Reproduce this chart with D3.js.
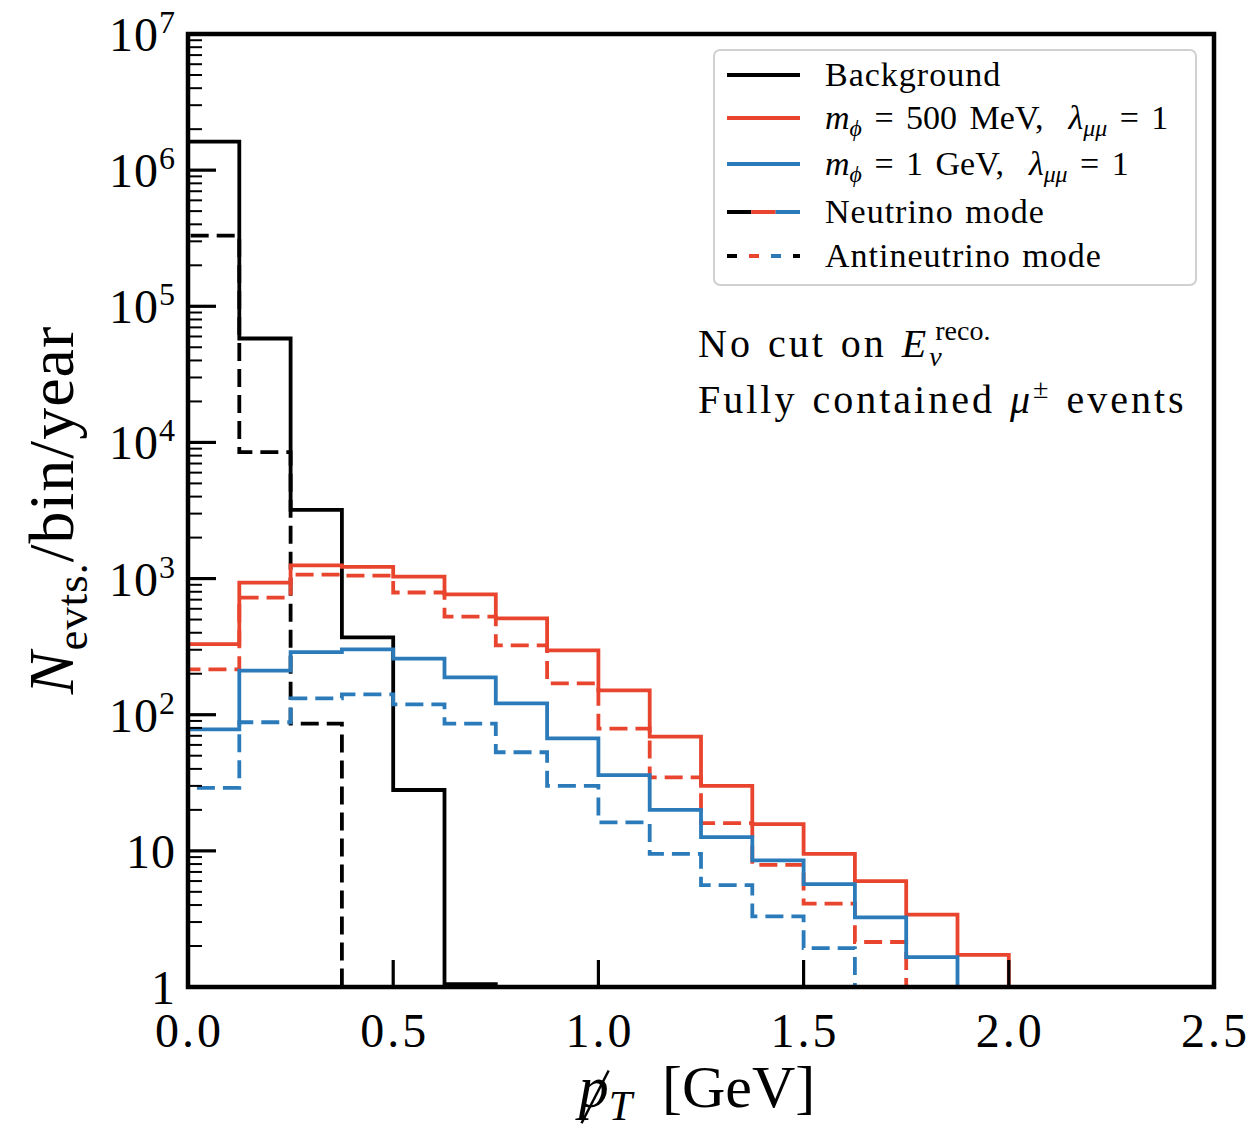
<!DOCTYPE html>
<html>
<head>
<meta charset="utf-8">
<script src="https://cdn.jsdelivr.net/npm/d3@7"></script>
<style>
  body { margin: 0; background: #fff; }
  text { font-family: "Liberation Serif", "DejaVu Serif", serif; fill: #000; }
</style>
</head>
<body>
<div id="chart"></div>
<script>
// bin edges in GeV (bin width 0.125)
const binEdges = [0, 0.125, 0.25, 0.375, 0.5, 0.625, 0.75, 0.875, 1.0,
  1.125, 1.25, 1.375, 1.5, 1.625, 1.75, 1.875, 2.0];

// events per bin per year
const bkgNu = [1.62e6, 5.8e4, 3200, 370, 28, 1.05];
const bkgAntiNu = [3.3e5, 8500, 86];
const red500Nu = [330, 935, 1250, 1220, 1035, 765, 510, 297, 151, 69, 30, 15.7, 9.5, 6.0, 3.4, 1.72];
const red500AntiNu = [215, 725, 1070, 1050, 790, 525, 323, 170, 79, 34.6, 16, 7.9, 4.1, 2.14];
const blue1Nu = [78, 211, 288, 302, 258, 188, 121, 67, 36, 20, 12.6, 8.5, 5.7, 3.25, 1.66];
const blue1AntiNu = [29, 88, 132, 141, 119, 86, 53, 30, 16.2, 9.5, 5.6, 3.3, 1.93];

const xTicks = [0, 0.5, 1.0, 1.5, 2.0, 2.5];
const yExponents = [0, 1, 2, 3, 4, 5, 6, 7];

const red = "#e8442e";
const blue = "#2b7bba";

const width = 1251;
const height = 1133;
const margin = { top: 34, right: 37, bottom: 146, left: 188 };

const xScale = d3.scaleLinear()
  .domain([0, 2.5])
  .range([margin.left, width - margin.right]);

const yScale = d3.scaleLog()
  .domain([1, 1e7])
  .range([height - margin.bottom, margin.top]);

const svg = d3.select("#chart")
  .append("svg")
  .attr("width", width)
  .attr("height", height);

svg.append("clipPath")
  .attr("id", "plot-clip")
  .append("rect")
  .attr("x", margin.left)
  .attr("y", margin.top)
  .attr("width", width - margin.left - margin.right)
  .attr("height", height - margin.top - margin.bottom);

// rich text helper: parts are [string, kind]; kind: "", "i", "sub", "sup", "isub", "isup"
const richText = (sel, parts, size) => {
  let shift = 0;
  parts.forEach(([str, kind]) => {
    const t = sel.append("tspan").text(str);
    if (kind.includes("i")) t.style("font-style", "italic");
    let target = 0;
    if (kind.includes("sub")) target = size * 0.22;
    else if (kind.includes("sup")) target = -size * 0.38;
    if (target !== 0) t.style("font-size", `${size * 0.7}px`);
    if (target !== shift) t.attr("dy", target - shift);
    shift = target;
  });
  return sel;
};

// histogram step path
const stepPath = (values) => {
  const base = yScale.range()[0];
  const pts = [[xScale(0), base]];
  values.forEach((v, i) => {
    const y = v > 0 ? yScale(v) : base;
    pts.push([xScale(binEdges[i]), y]);
    pts.push([xScale(binEdges[i + 1]), y]);
  });
  pts.push([xScale(binEdges[values.length]), base]);
  return d3.line()(pts);
};

const series = [
  { values: bkgNu, color: "#000", dash: null },
  { values: bkgAntiNu, color: "#000", dash: "18,8" },
  { values: red500Nu, color: red, dash: null },
  { values: red500AntiNu, color: red, dash: "18,8" },
  { values: blue1Nu, color: blue, dash: null },
  { values: blue1AntiNu, color: blue, dash: "18,8" },
];

const histGroup = svg.append("g").attr("clip-path", "url(#plot-clip)");
histGroup.selectAll("path")
  .data(series)
  .join("path")
  .attr("d", (d) => stepPath(d.values))
  .attr("fill", "none")
  .attr("stroke", (d) => d.color)
  .attr("stroke-width", 3.8)
  .attr("stroke-dasharray", (d) => d.dash)
  .attr("stroke-linejoin", "miter");

// y ticks (major + minor), inward
const yMinor = [];
yExponents.slice(0, -1).forEach((e) => {
  for (let m = 2; m <= 9; m++) yMinor.push(m * Math.pow(10, e));
});
svg.append("g")
  .selectAll("line")
  .data(yMinor)
  .join("line")
  .attr("x1", margin.left)
  .attr("x2", margin.left + 14)
  .attr("y1", (d) => yScale(d))
  .attr("y2", (d) => yScale(d))
  .attr("stroke", "#000")
  .attr("stroke-width", 2);

svg.append("g")
  .selectAll("line")
  .data(yExponents)
  .join("line")
  .attr("x1", margin.left)
  .attr("x2", margin.left + 28)
  .attr("y1", (d) => yScale(Math.pow(10, d)))
  .attr("y2", (d) => yScale(Math.pow(10, d)))
  .attr("stroke", "#000")
  .attr("stroke-width", 3.2);

const yLabels = svg.append("g")
  .selectAll("text")
  .data(yExponents)
  .join("text")
  .attr("x", margin.left - 12)
  .attr("y", (d) => yScale(Math.pow(10, d)) + 17)
  .attr("text-anchor", "end")
  .style("font-size", "48px")
  .style("letter-spacing", "1px");
yLabels.each(function (d) {
  const t = d3.select(this);
  if (d === 0) t.text("1");
  else if (d === 1) t.text("10");
  else {
    t.append("tspan").text("10");
    t.append("tspan").text(d).attr("dy", -18).style("font-size", "32px");
  }
});

// x ticks inward
svg.append("g")
  .selectAll("line")
  .data(xTicks.slice(1, -1))
  .join("line")
  .attr("x1", (d) => xScale(d))
  .attr("x2", (d) => xScale(d))
  .attr("y1", yScale.range()[0])
  .attr("y2", yScale.range()[0] - 27)
  .attr("stroke", "#000")
  .attr("stroke-width", 3.2);

svg.append("g")
  .selectAll("text")
  .data(xTicks)
  .join("text")
  .attr("x", (d) => xScale(d) + 1.5)
  .attr("y", yScale.range()[0] + 60)
  .attr("text-anchor", "middle")
  .style("font-size", "48px")
  .style("letter-spacing", "3px")
  .text((d) => d.toFixed(1));

// frame
svg.append("rect")
  .attr("x", margin.left)
  .attr("y", margin.top)
  .attr("width", width - margin.left - margin.right)
  .attr("height", height - margin.top - margin.bottom)
  .attr("fill", "none")
  .attr("stroke", "#000")
  .attr("stroke-width", 4.5);

// axis titles
const xTitle = svg.append("text")
  .attr("x", 697)
  .attr("y", 1107)
  .attr("text-anchor", "middle")
  .style("font-size", "60px");
richText(xTitle, [["p", "i"], ["T", "isub"], ["\u00a0\u00a0[GeV]", ""]], 60);
// slash through the p
const pBox = xTitle.select("tspan").node().getBBox();
svg.append("line")
  .attr("x1", pBox.x + pBox.width * 0.2)
  .attr("y1", pBox.y + pBox.height * 1.05)
  .attr("x2", pBox.x + pBox.width * 1.0)
  .attr("y2", pBox.y + pBox.height * 0.25)
  .attr("stroke", "#000")
  .attr("stroke-width", 2.5);

const yTitle = svg.append("text")
  .attr("transform", "translate(73, 510) rotate(-90)")
  .attr("text-anchor", "middle")
  .style("font-size", "64px")
  .style("letter-spacing", "1px");
richText(yTitle, [["N", "i"], ["evts.", "sub"], ["/bin/year", ""]], 64);

// legend
const legend = svg.append("g");
legend.append("rect")
  .attr("x", 714)
  .attr("y", 50)
  .attr("width", 482)
  .attr("height", 235)
  .attr("rx", 6)
  .attr("fill", "#fff")
  .attr("stroke", "#d0d0d0")
  .attr("stroke-width", 2);

const legendSize = 34;
const legendItems = [
  { y: 75, math: false, parts: [["Background", ""]] },
  { y: 118, math: true, parts: [["m", "i"], ["ϕ", "isub"], [" = 500 MeV,  ", ""], ["λ", "i"], ["μμ", "isub"], [" = 1", ""]] },
  { y: 164, math: true, parts: [["m", "i"], ["ϕ", "isub"], [" = 1 GeV,  ", ""], ["λ", "i"], ["μμ", "isub"], [" = 1", ""]] },
  { y: 212, math: false, parts: [["Neutrino mode", ""]] },
  { y: 256, math: false, parts: [["Antineutrino mode", ""]] },
];
legendItems.forEach((item) => {
  const t = legend.append("text")
    .attr("x", 825)
    .attr("y", item.y + 11)
    .style("font-size", `${legendSize}px`)
    .style("letter-spacing", item.math ? "0px" : "1px")
    .style("word-spacing", item.math ? "4px" : "2px")
    .attr("xml:space", "preserve");
  richText(t, item.parts, legendSize);
});

const lx0 = 727, lx1 = 800;
[["#000", 75], [red, 118], [blue, 164]].forEach(([c, y]) => {
  legend.append("line")
    .attr("x1", lx0).attr("x2", lx1)
    .attr("y1", y).attr("y2", y)
    .attr("stroke", c).attr("stroke-width", 4);
});
// neutrino mode: three solid pieces
[["#000", 0], [red, 1], [blue, 2]].forEach(([c, i]) => {
  const w = (lx1 - lx0) / 3;
  legend.append("line")
    .attr("x1", lx0 + i * w).attr("x2", lx0 + (i + 1) * w)
    .attr("y1", 212).attr("y2", 212)
    .attr("stroke", c).attr("stroke-width", 4);
});
// antineutrino mode: interleaved dashes
[["#000", 0], [red, 22], [blue, 44]].forEach(([c, off]) => {
  legend.append("line")
    .attr("x1", lx0).attr("x2", lx1)
    .attr("y1", 256).attr("y2", 256)
    .attr("stroke", c).attr("stroke-width", 4)
    .attr("stroke-dasharray", "10,56")
    .attr("stroke-dashoffset", off === 0 ? 0 : 66 - off);
});

// annotation
const annSize = 40;
const ann1 = svg.append("text")
  .attr("x", 698)
  .attr("y", 357)
  .style("font-size", `${annSize}px`)
  .style("letter-spacing", "3px")
  .style("word-spacing", "2px");
richText(ann1, [["No cut on ", ""], ["E", "i"], ["ν", "isub"]], annSize);
const nuPos = ann1.node().getStartPositionOfChar(11);
svg.append("text")
  .attr("x", nuPos.x + 6)
  .attr("y", 340)
  .style("font-size", "28px")
  .text("reco.");

const ann2 = svg.append("text")
  .attr("x", 698)
  .attr("y", 413)
  .style("font-size", `${annSize}px`)
  .style("letter-spacing", "3px")
  .style("word-spacing", "2px");
richText(ann2, [["Fully contained ", ""], ["μ", "i"], ["±", "sup"], [" events", ""]], annSize);
</script>
</body>
</html>
